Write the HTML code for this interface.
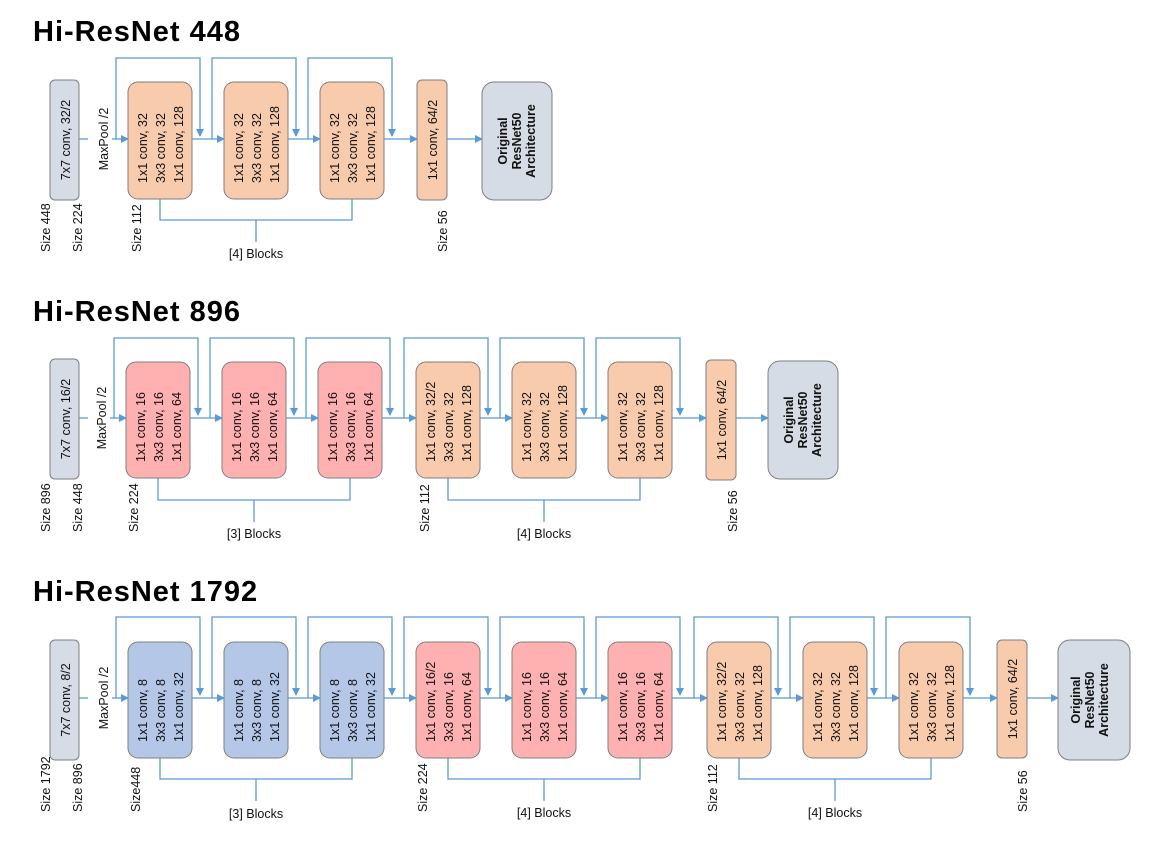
<!DOCTYPE html>
<html><head><meta charset="utf-8"><style>
html,body{margin:0;padding:0;background:#fff}
svg{display:block;font-family:"Liberation Sans",sans-serif}
.t{font-size:12.5px;fill:#111}
.b{font-size:12.5px;font-weight:bold;fill:#111}
.h{font-size:29px;font-weight:bold;fill:#000;letter-spacing:1px}
.l{stroke:#5b9bd5;stroke-width:1.3;fill:none}
.o{fill:#f8cbad;stroke:#7f7f7f;stroke-width:1}
.p{fill:#ffb0b0;stroke:#7f7f7f;stroke-width:1}
.u{fill:#b4c7e7;stroke:#7f7f7f;stroke-width:1}
.g{fill:#d6dce5;stroke:#7f7f7f;stroke-width:1}
</style></head><body>
<svg width="1153" height="841" viewBox="0 0 1153 841" xmlns="http://www.w3.org/2000/svg">
<defs><marker id="a" markerWidth="8" markerHeight="8" refX="7" refY="4" orient="auto" markerUnits="userSpaceOnUse"><path d="M0,0 L8,4 L0,8 z" fill="#5b9bd5"/></marker></defs>

<!-- ============ SECTION 1 ============ -->
<text class="h" x="33" y="41">Hi-ResNet 448</text>
<path class="l" d="M79 139 L88 139"/>
<path class="l" d="M112 139 L128 139" marker-end="url(#a)"/>
<path class="l" d="M192 139 L224 139" marker-end="url(#a)"/>
<path class="l" d="M288 139 L320 139" marker-end="url(#a)"/>
<path class="l" d="M384 139 L417 139" marker-end="url(#a)"/>
<path class="l" d="M447 139 L482 139" marker-end="url(#a)"/>
<path class="l" d="M116 139 L116 58 L200 58 L200 136" marker-end="url(#a)"/>
<path class="l" d="M212 139 L212 58 L296 58 L296 136" marker-end="url(#a)"/>
<path class="l" d="M308 139 L308 58 L392 58 L392 136" marker-end="url(#a)"/>
<path class="l" d="M160 199 L160 220 L352 220 L352 199 M256 220 L256 242"/>
<text class="t" x="256" y="258" text-anchor="middle">[4] Blocks</text>
<rect class="g" x="50" y="80" width="29" height="120" rx="5"/>
<text class="t" transform="translate(70,140) rotate(-90)" text-anchor="middle">7x7 conv, 32/2</text>
<text class="t" transform="translate(108,139) rotate(-90)" text-anchor="middle">MaxPool /2</text>
<g transform="translate(128,82)"><rect class="o" width="64" height="117" rx="10"/>
<text class="t" transform="translate(19,101) rotate(-90)">1x1 conv, 32</text><text class="t" transform="translate(37,101) rotate(-90)">3x3 conv, 32</text><text class="t" transform="translate(55,101) rotate(-90)">1x1 conv, 128</text></g>
<g transform="translate(224,82)"><rect class="o" width="64" height="117" rx="10"/>
<text class="t" transform="translate(19,101) rotate(-90)">1x1 conv, 32</text><text class="t" transform="translate(37,101) rotate(-90)">3x3 conv, 32</text><text class="t" transform="translate(55,101) rotate(-90)">1x1 conv, 128</text></g>
<g transform="translate(320,82)"><rect class="o" width="64" height="117" rx="10"/>
<text class="t" transform="translate(19,101) rotate(-90)">1x1 conv, 32</text><text class="t" transform="translate(37,101) rotate(-90)">3x3 conv, 32</text><text class="t" transform="translate(55,101) rotate(-90)">1x1 conv, 128</text></g>
<rect class="o" x="417" y="80" width="30" height="120" rx="5"/>
<text class="t" transform="translate(437,140) rotate(-90)" text-anchor="middle">1x1 conv, 64/2</text>
<rect class="g" x="482" y="82" width="70" height="118" rx="12"/>
<text class="b" transform="translate(507,141) rotate(-90)" text-anchor="middle">Original</text>
<text class="b" transform="translate(521,141) rotate(-90)" text-anchor="middle">ResNet50</text>
<text class="b" transform="translate(535,141) rotate(-90)" text-anchor="middle">Architecture</text>
<text class="t" transform="translate(50,252) rotate(-90)">Size 448</text>
<text class="t" transform="translate(82,252) rotate(-90)">Size 224</text>
<text class="t" transform="translate(141,252) rotate(-90)">Size 112</text>
<text class="t" transform="translate(447,252) rotate(-90)">Size 56</text>

<!-- ============ SECTION 2 ============ -->
<text class="h" x="33" y="321">Hi-ResNet 896</text>
<path class="l" d="M79 418 L88 418"/>
<path class="l" d="M110 418 L126 418" marker-end="url(#a)"/>
<path class="l" d="M190 418 L222 418" marker-end="url(#a)"/>
<path class="l" d="M286 418 L318 418" marker-end="url(#a)"/>
<path class="l" d="M382 418 L416 418" marker-end="url(#a)"/>
<path class="l" d="M480 418 L512 418" marker-end="url(#a)"/>
<path class="l" d="M576 418 L608 418" marker-end="url(#a)"/>
<path class="l" d="M672 418 L706 418" marker-end="url(#a)"/>
<path class="l" d="M736 418 L768 418" marker-end="url(#a)"/>
<path class="l" d="M114 418 L114 338 L198 338 L198 415" marker-end="url(#a)"/>
<path class="l" d="M210 418 L210 338 L294 338 L294 415" marker-end="url(#a)"/>
<path class="l" d="M306 418 L306 338 L390 338 L390 415" marker-end="url(#a)"/>
<path class="l" d="M404 418 L404 338 L488 338 L488 415" marker-end="url(#a)"/>
<path class="l" d="M500 418 L500 338 L584 338 L584 415" marker-end="url(#a)"/>
<path class="l" d="M596 418 L596 338 L680 338 L680 415" marker-end="url(#a)"/>
<path class="l" d="M158 478 L158 500 L350 500 L350 478 M254 500 L254 522"/>
<path class="l" d="M448 478 L448 500 L640 500 L640 478 M544 500 L544 522"/>
<text class="t" x="254" y="538" text-anchor="middle">[3] Blocks</text>
<text class="t" x="544" y="538" text-anchor="middle">[4] Blocks</text>
<rect class="g" x="50" y="359" width="29" height="120" rx="5"/>
<text class="t" transform="translate(70,419) rotate(-90)" text-anchor="middle">7x7 conv, 16/2</text>
<text class="t" transform="translate(106,418) rotate(-90)" text-anchor="middle">MaxPool /2</text>
<g transform="translate(126,362)"><rect class="p" width="64" height="116" rx="10"/>
<text class="t" transform="translate(19,100) rotate(-90)">1x1 conv, 16</text><text class="t" transform="translate(37,100) rotate(-90)">3x3 conv, 16</text><text class="t" transform="translate(55,100) rotate(-90)">1x1 conv, 64</text></g>
<g transform="translate(222,362)"><rect class="p" width="64" height="116" rx="10"/>
<text class="t" transform="translate(19,100) rotate(-90)">1x1 conv, 16</text><text class="t" transform="translate(37,100) rotate(-90)">3x3 conv, 16</text><text class="t" transform="translate(55,100) rotate(-90)">1x1 conv, 64</text></g>
<g transform="translate(318,362)"><rect class="p" width="64" height="116" rx="10"/>
<text class="t" transform="translate(19,100) rotate(-90)">1x1 conv, 16</text><text class="t" transform="translate(37,100) rotate(-90)">3x3 conv, 16</text><text class="t" transform="translate(55,100) rotate(-90)">1x1 conv, 64</text></g>
<g transform="translate(416,362)"><rect class="o" width="64" height="116" rx="10"/>
<text class="t" transform="translate(19,100) rotate(-90)">1x1 conv, 32/2</text><text class="t" transform="translate(37,100) rotate(-90)">3x3 conv, 32</text><text class="t" transform="translate(55,100) rotate(-90)">1x1 conv, 128</text></g>
<g transform="translate(512,362)"><rect class="o" width="64" height="116" rx="10"/>
<text class="t" transform="translate(19,100) rotate(-90)">1x1 conv, 32</text><text class="t" transform="translate(37,100) rotate(-90)">3x3 conv, 32</text><text class="t" transform="translate(55,100) rotate(-90)">1x1 conv, 128</text></g>
<g transform="translate(608,362)"><rect class="o" width="64" height="116" rx="10"/>
<text class="t" transform="translate(19,100) rotate(-90)">1x1 conv, 32</text><text class="t" transform="translate(37,100) rotate(-90)">3x3 conv, 32</text><text class="t" transform="translate(55,100) rotate(-90)">1x1 conv, 128</text></g>
<rect class="o" x="706" y="360" width="30" height="120" rx="5"/>
<text class="t" transform="translate(726,420) rotate(-90)" text-anchor="middle">1x1 conv, 64/2</text>
<rect class="g" x="768" y="361" width="70" height="118" rx="12"/>
<text class="b" transform="translate(793,420) rotate(-90)" text-anchor="middle">Original</text>
<text class="b" transform="translate(807,420) rotate(-90)" text-anchor="middle">ResNet50</text>
<text class="b" transform="translate(821,420) rotate(-90)" text-anchor="middle">Architecture</text>
<text class="t" transform="translate(50,532) rotate(-90)">Size 896</text>
<text class="t" transform="translate(82,532) rotate(-90)">Size 448</text>
<text class="t" transform="translate(138,532) rotate(-90)">Size 224</text>
<text class="t" transform="translate(429,532) rotate(-90)">Size 112</text>
<text class="t" transform="translate(737,532) rotate(-90)">Size 56</text>

<!-- ============ SECTION 3 ============ -->
<text class="h" x="33" y="601">Hi-ResNet 1792</text>
<path class="l" d="M79 698 L88 698"/>
<path class="l" d="M112 698 L128 698" marker-end="url(#a)"/>
<path class="l" d="M192 698 L224 698" marker-end="url(#a)"/>
<path class="l" d="M288 698 L320 698" marker-end="url(#a)"/>
<path class="l" d="M384 698 L416 698" marker-end="url(#a)"/>
<path class="l" d="M480 698 L512 698" marker-end="url(#a)"/>
<path class="l" d="M576 698 L608 698" marker-end="url(#a)"/>
<path class="l" d="M672 698 L707 698" marker-end="url(#a)"/>
<path class="l" d="M771 698 L803 698" marker-end="url(#a)"/>
<path class="l" d="M867 698 L899 698" marker-end="url(#a)"/>
<path class="l" d="M963 698 L997 698" marker-end="url(#a)"/>
<path class="l" d="M1027 698 L1058 698" marker-end="url(#a)"/>
<path class="l" d="M116 698 L116 617 L200 617 L200 695" marker-end="url(#a)"/>
<path class="l" d="M212 698 L212 617 L296 617 L296 695" marker-end="url(#a)"/>
<path class="l" d="M308 698 L308 617 L392 617 L392 695" marker-end="url(#a)"/>
<path class="l" d="M404 698 L404 617 L488 617 L488 695" marker-end="url(#a)"/>
<path class="l" d="M500 698 L500 617 L584 617 L584 695" marker-end="url(#a)"/>
<path class="l" d="M596 698 L596 617 L680 617 L680 695" marker-end="url(#a)"/>
<path class="l" d="M694 698 L694 617 L778 617 L778 695" marker-end="url(#a)"/>
<path class="l" d="M790 698 L790 617 L874 617 L874 695" marker-end="url(#a)"/>
<path class="l" d="M886 698 L886 617 L970 617 L970 695" marker-end="url(#a)"/>
<path class="l" d="M160 758 L160 779 L352 779 L352 758 M256 779 L256 801"/>
<path class="l" d="M448 758 L448 779 L640 779 L640 758 M544 779 L544 801"/>
<path class="l" d="M739 758 L739 779 L931 779 L931 758 M835 779 L835 801"/>
<text class="t" x="256" y="818" text-anchor="middle">[3] Blocks</text>
<text class="t" x="544" y="817" text-anchor="middle">[4] Blocks</text>
<text class="t" x="835" y="817" text-anchor="middle">[4] Blocks</text>
<rect class="g" x="50" y="640" width="29" height="120" rx="5"/>
<text class="t" transform="translate(70,700) rotate(-90)" text-anchor="middle">7x7 conv, 8/2</text>
<text class="t" transform="translate(108,698) rotate(-90)" text-anchor="middle">MaxPool /2</text>
<g transform="translate(128,642)"><rect class="u" width="64" height="116" rx="10"/>
<text class="t" transform="translate(19,100) rotate(-90)">1x1 conv, 8</text><text class="t" transform="translate(37,100) rotate(-90)">3x3 conv, 8</text><text class="t" transform="translate(55,100) rotate(-90)">1x1 conv, 32</text></g>
<g transform="translate(224,642)"><rect class="u" width="64" height="116" rx="10"/>
<text class="t" transform="translate(19,100) rotate(-90)">1x1 conv, 8</text><text class="t" transform="translate(37,100) rotate(-90)">3x3 conv, 8</text><text class="t" transform="translate(55,100) rotate(-90)">1x1 conv, 32</text></g>
<g transform="translate(320,642)"><rect class="u" width="64" height="116" rx="10"/>
<text class="t" transform="translate(19,100) rotate(-90)">1x1 conv, 8</text><text class="t" transform="translate(37,100) rotate(-90)">3x3 conv, 8</text><text class="t" transform="translate(55,100) rotate(-90)">1x1 conv, 32</text></g>
<g transform="translate(416,642)"><rect class="p" width="64" height="116" rx="10"/>
<text class="t" transform="translate(19,100) rotate(-90)">1x1 conv, 16/2</text><text class="t" transform="translate(37,100) rotate(-90)">3x3 conv, 16</text><text class="t" transform="translate(55,100) rotate(-90)">1x1 conv, 64</text></g>
<g transform="translate(512,642)"><rect class="p" width="64" height="116" rx="10"/>
<text class="t" transform="translate(19,100) rotate(-90)">1x1 conv, 16</text><text class="t" transform="translate(37,100) rotate(-90)">3x3 conv, 16</text><text class="t" transform="translate(55,100) rotate(-90)">1x1 conv, 64</text></g>
<g transform="translate(608,642)"><rect class="p" width="64" height="116" rx="10"/>
<text class="t" transform="translate(19,100) rotate(-90)">1x1 conv, 16</text><text class="t" transform="translate(37,100) rotate(-90)">3x3 conv, 16</text><text class="t" transform="translate(55,100) rotate(-90)">1x1 conv, 64</text></g>
<g transform="translate(707,642)"><rect class="o" width="64" height="116" rx="10"/>
<text class="t" transform="translate(19,100) rotate(-90)">1x1 conv, 32/2</text><text class="t" transform="translate(37,100) rotate(-90)">3x3 conv, 32</text><text class="t" transform="translate(55,100) rotate(-90)">1x1 conv, 128</text></g>
<g transform="translate(803,642)"><rect class="o" width="64" height="116" rx="10"/>
<text class="t" transform="translate(19,100) rotate(-90)">1x1 conv, 32</text><text class="t" transform="translate(37,100) rotate(-90)">3x3 conv, 32</text><text class="t" transform="translate(55,100) rotate(-90)">1x1 conv, 128</text></g>
<g transform="translate(899,642)"><rect class="o" width="64" height="116" rx="10"/>
<text class="t" transform="translate(19,100) rotate(-90)">1x1 conv, 32</text><text class="t" transform="translate(37,100) rotate(-90)">3x3 conv, 32</text><text class="t" transform="translate(55,100) rotate(-90)">1x1 conv, 128</text></g>
<rect class="o" x="997" y="640" width="30" height="118" rx="5"/>
<text class="t" transform="translate(1017,699) rotate(-90)" text-anchor="middle">1x1 conv, 64/2</text>
<rect class="g" x="1058" y="640" width="72" height="120" rx="12"/>
<text class="b" transform="translate(1080,700) rotate(-90)" text-anchor="middle">Original</text>
<text class="b" transform="translate(1094,700) rotate(-90)" text-anchor="middle">ResNet50</text>
<text class="b" transform="translate(1108,700) rotate(-90)" text-anchor="middle">Architecture</text>
<text class="t" transform="translate(50,812) rotate(-90)">Size 1792</text>
<text class="t" transform="translate(82,812) rotate(-90)">Size 896</text>
<text class="t" transform="translate(140,812) rotate(-90)">Size448</text>
<text class="t" transform="translate(427,812) rotate(-90)">Size 224</text>
<text class="t" transform="translate(717,812) rotate(-90)">Size 112</text>
<text class="t" transform="translate(1027,812) rotate(-90)">Size 56</text>
</svg>
</body></html>
